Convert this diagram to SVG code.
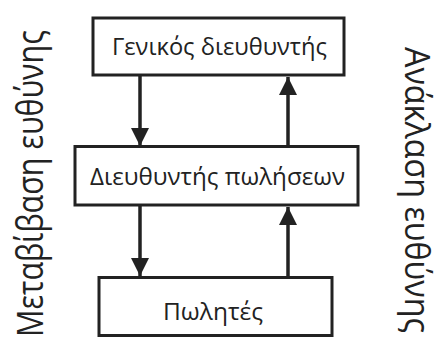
<svg xmlns="http://www.w3.org/2000/svg" width="434" height="340" viewBox="0 0 434 340">
  <style>
    .box { fill: #ffffff; stroke: #222222; stroke-width: 3; }
    .lbl { font-family: "Open Sans", "Noto Sans", "DejaVu Sans", sans-serif; font-size: 24px; fill: #222222; text-anchor: middle; }
    .side { font-family: "Open Sans", "Noto Sans", "DejaVu Sans", sans-serif; fill: #222222; }
    .conn { stroke: #222222; stroke-width: 3.5; fill: none; }
  </style>
  <defs>
    <marker id="head" markerUnits="userSpaceOnUse" markerWidth="18" markerHeight="18" viewBox="0 0 18 18" refX="18" refY="9" orient="auto">
      <path d="M0,0 L18,9 L0,18 Z" fill="#222222"/>
    </marker>
  </defs>
  <rect width="434" height="340" fill="#ffffff"/>

  <g id="connectors">
    <line class="conn" x1="140" y1="76" x2="140" y2="146" marker-end="url(#head)"/>
    <line class="conn" x1="288" y1="146" x2="288" y2="77" marker-end="url(#head)"/>
    <line class="conn" x1="140" y1="206" x2="140" y2="276" marker-end="url(#head)"/>
    <line class="conn" x1="288" y1="276" x2="288" y2="207" marker-end="url(#head)"/>
  </g>

  <g id="general-manager">
    <rect class="box" x="93" y="18" width="251" height="57"/>
    <text class="lbl" x="219.5" y="55" textLength="215" lengthAdjust="spacingAndGlyphs">Γενικός διευθυντής</text>
  </g>

  <g id="sales-manager">
    <rect class="box" x="75" y="146.5" width="283" height="58.5"/>
    <text class="lbl" x="217.5" y="185" textLength="255" lengthAdjust="spacingAndGlyphs">Διευθυντής πωλήσεων</text>
  </g>

  <g id="salespeople">
    <rect class="box" x="99" y="277.5" width="233" height="58"/>
    <text class="lbl" x="213" y="320" textLength="100" lengthAdjust="spacingAndGlyphs">Πωλητές</text>
  </g>

  <g id="delegation-label">
    <text class="side" transform="translate(43,337) rotate(-90)" font-size="37" textLength="307" lengthAdjust="spacingAndGlyphs">Μεταβίβαση ευθύνης</text>
  </g>

  <g id="accountability-label">
    <text class="side" transform="translate(405,47) rotate(90)" font-size="34" textLength="286" lengthAdjust="spacingAndGlyphs">Ανάκλαση ευθύνης</text>
  </g>
</svg>
